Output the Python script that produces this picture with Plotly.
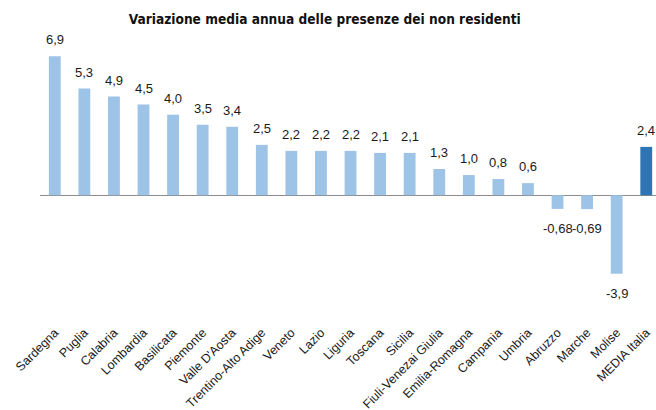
import plotly.graph_objects as go

categories = ["Sardegna", "Puglia", "Calabria", "Lombardia", "Basilicata", "Piemonte",
              "Valle D'Aosta", "Trentino-Alto Adige", "Veneto", "Lazio", "Liguria",
              "Toscana", "Sicilia", "Fiuli-Venezai Giulia", "Emilia-Romagna", "Campania",
              "Umbria", "Abruzzo", "Marche", "Molise", "MEDIA Italia"]
values = [6.9, 5.3, 4.9, 4.5, 4.0, 3.5, 3.4, 2.5, 2.2, 2.2, 2.2, 2.1, 2.1, 1.3, 1.0,
          0.8, 0.6, -0.68, -0.69, -3.9, 2.4]
value_labels = ["6,9", "5,3", "4,9", "4,5", "4,0", "3,5", "3,4", "2,5", "2,2", "2,2",
                "2,2", "2,1", "2,1", "1,3", "1,0", "0,8", "0,6", "-0,68", "-0,69", "-3,9", "2,4"]
highlight = "MEDIA Italia"

LIGHT = "#9DC3E6"
DARK = "#2E75B6"
colors = [DARK if c == highlight else LIGHT for c in categories]

fig = go.Figure()
fig.add_trace(go.Bar(
    x=categories, y=values, marker=dict(color=colors, line=dict(width=0)),
    width=0.40, hoverinfo="skip"))

label_font = dict(family="Liberation Sans, Arial, sans-serif", size=13, color="#1a1a1a")
for c, v, t in zip(categories, values, value_labels):
    fig.add_annotation(x=c, y=v, text=t, showarrow=False, font=label_font,
                       yanchor="bottom" if v >= 0 else "top",
                       yshift=7 if v >= 0 else -10)

fig.update_layout(
    width=656, height=410,
    margin=dict(l=40, r=0, t=40, b=88, autoexpand=False),
    paper_bgcolor="white", plot_bgcolor="white",
    showlegend=False,
    title=dict(text="<b>Variazione media annua delle presenze dei non residenti</b>",
               x=0.495, xanchor="center", y=1 - 19.5 / 410, yanchor="middle", yref="container",
               font=dict(family="DejaVu Sans Condensed, sans-serif", size=13.6, color="#111111")),
    xaxis=dict(range=[-0.5, 20.33], tickangle=-45, showgrid=False, showline=False,
               automargin=False, ticks="",
               tickfont=dict(family="Liberation Sans, Arial, sans-serif", size=12.5,
                             color="#1a1a1a")),
    yaxis=dict(range=[-6.3, 7.71], showgrid=False, showticklabels=False, ticks="",
               automargin=False,
               zeroline=True, zerolinecolor="#8c8c8c", zerolinewidth=1, showline=False),
)

fig.write_html("out.html", config={"displayModeBar": False},
               post_script="document.body.style.margin='0';document.body.style.overflow='hidden';")
